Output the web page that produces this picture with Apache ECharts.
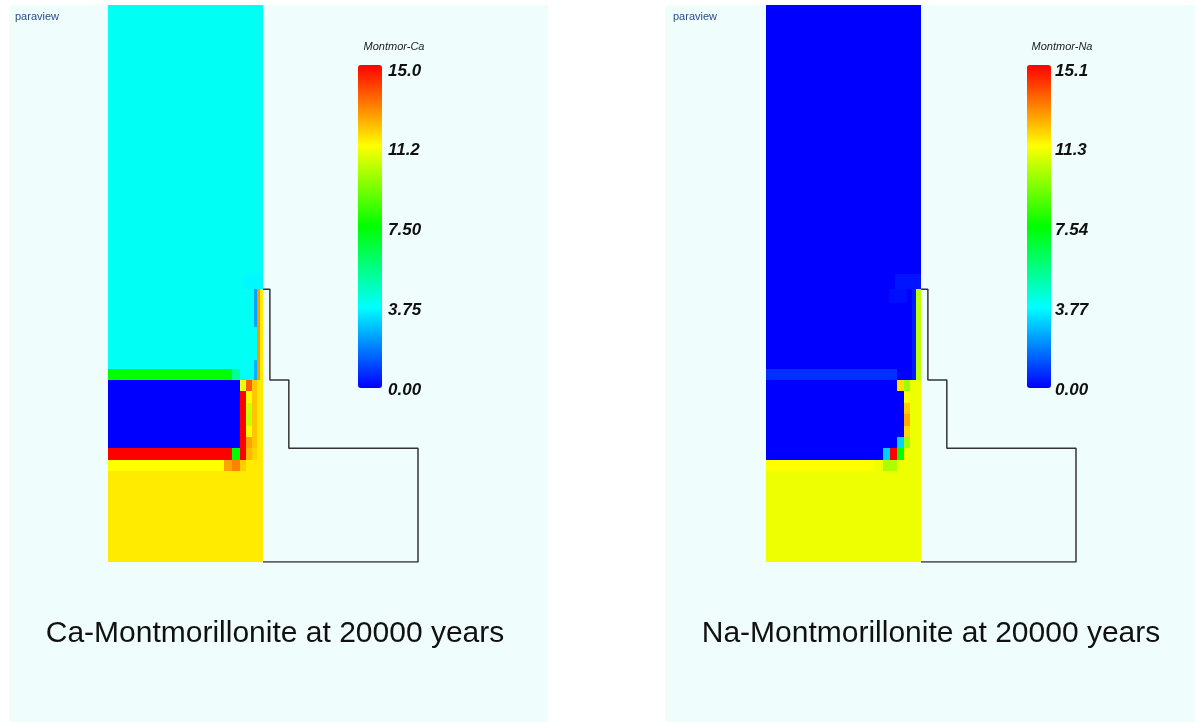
<!DOCTYPE html>
<html>
<head>
<meta charset="utf-8">
<title>Montmorillonite at 20000 years</title>
<script src="https://cdn.jsdelivr.net/npm/echarts@6/dist/echarts.min.js"></script>
<style>
  html, body { margin: 0; padding: 0; background: #ffffff; }
  #chart { width: 1197px; height: 725px; }
</style>
</head>
<body>
<div id="chart"></div>
<script>
// domain outline, in mesh cell units (field is x 0..27, y 0..49)
const outlineX = [27, 28.2, 28.2, 31.5, 31.5, 54, 54, 27];
const outlineY = [24, 24, 16, 16, 10, 10, 0, 0];

// colour bar ranges and tick labels
const caRange = [0, 15.0];
const naRange = [0, 15.08];
const caTickLabels = ['0.00', '3.75', '7.50', '11.2', '15.0'];
const naTickLabels = ['0.00', '3.77', '7.54', '11.3', '15.1'];

// field patches: [x0, x1, y0, y1, value], later ones drawn on top
const caPatches = [
  [0, 27, 0, 24, 11.55],
  [0, 27, 24, 49, 3.9],
  [0, 26, 16, 24, 3.9],
  [23.5, 27, 24, 25.3, 3.65],
  [25.5, 26, 20.7, 24, 2.4],
  [25.5, 26, 16, 17.8, 2.6],
  [26, 26.4, 16, 24, 12.8],
  [0, 21.6, 16, 17, 7.5],
  [21.6, 23, 16, 17, 5.3],
  [0, 23, 10, 16, 0],
  [23, 24, 10, 15, 15],
  [23, 24, 15, 16, 11.0],
  [24, 25, 15, 16, 13.6],
  [24, 25, 14, 15, 11.3],
  [24, 25, 13, 14, 10.5],
  [24, 25, 12, 13, 10.4],
  [24, 25, 11, 12, 11.2],
  [24, 25, 10, 11, 12.6],
  [25, 26, 10, 16, 12.1],
  [0, 21.6, 9, 10, 15],
  [21.6, 23, 9, 10, 7.5],
  [23, 24, 9, 10, 15],
  [24, 25, 9, 10, 12.3],
  [25, 26, 9, 10, 11.9],
  [0, 20.2, 8, 9, 11.25],
  [20.2, 21.6, 8, 9, 12.6],
  [21.6, 23, 8, 9, 13.1],
  [23, 24, 8, 9, 12.0]
];

const naPatches = [
  [0, 27, 0, 24, 11.05],
  [0, 27, 24, 49, 0],
  [0, 26.1, 16, 24, 0],
  [22.5, 27, 24, 25.3, 0.3],
  [21.5, 24.5, 22.8, 24, 0.2],
  [25.5, 26.1, 16, 24, 0.4],
  [26.1, 27, 16, 24, 10.4],
  [0, 22.9, 16, 17, 0.7],
  [0, 24, 10, 15, 0],
  [0, 22.9, 15, 16, 0],
  [22.9, 24, 15, 16, 11.8],
  [24, 25, 15, 16, 9.8],
  [24, 25, 14, 15, 11.3],
  [24, 25, 13, 14, 12.1],
  [24, 25, 12, 13, 12.6],
  [24, 25, 11, 12, 11.9],
  [22.9, 24, 10, 11, 3.1],
  [24, 25, 10, 11, 9.9],
  [0, 20.3, 9, 10, 0],
  [20.3, 21.6, 9, 10, 3.1],
  [21.6, 22.9, 9, 10, 15.08],
  [22.9, 24, 9, 10, 7.54],
  [0, 18.8, 8, 9, 11.31],
  [20.3, 22.9, 8, 9, 10.1]
];

const rainbow = ['#0000ff', '#00ffff', '#00ff00', '#ffff00', '#ff0000'];
const panelColor = '#f0fdfd';
const labelFont = '"Liberation Sans", Arial, sans-serif';

// draw one patch as a rect through the axes
function renderPatch(params, api) {
  const p0 = api.coord([api.value(0), api.value(3)]);
  const p1 = api.coord([api.value(1), api.value(2)]);
  const x = Math.round(p0[0]);
  const y = Math.round(p0[1]);
  return {
    type: 'rect',
    shape: { x: x, y: y, width: Math.round(p1[0]) - x, height: Math.round(p1[1]) - y },
    style: { fill: api.visual('color') }
  };
}

function hiddenValueAxis(idx, max) {
  return { type: 'value', gridIndex: idx, min: 0, max: max, show: false };
}

function barLabelAxis(idx, range, labels, margin) {
  return {
    type: 'value',
    gridIndex: idx,
    position: 'right',
    min: range[0],
    max: range[1],
    interval: (range[1] - range[0]) / 4,
    axisLine: { show: false },
    axisTick: { show: false },
    splitLine: { show: false },
    axisLabel: {
      margin: margin,
      color: '#111',
      fontSize: 17,
      fontStyle: 'italic',
      fontWeight: 'bold',
      fontFamily: labelFont,
      formatter: (v, i) => labels[i]
    }
  };
}

function textEl(x, y, text, font, fill, align) {
  return {
    type: 'text',
    x: x,
    y: y,
    z: 10,
    style: {
      text: text,
      font: font,
      fill: fill,
      align: align, textAlign: align,
      verticalAlign: 'middle', textVerticalAlign: 'middle'
    }
  };
}

function initChart() {
  const chartDom = document.getElementById('chart');
  const chart = echarts.init(chartDom, null, { renderer: 'canvas' });

  const option = {
    animation: false,
    backgroundColor: '#ffffff',
    grid: [
      { left: 108, top: 5, width: 310, height: 557 },
      { left: 766, top: 5, width: 310, height: 557 },
      { left: 358, top: 71, width: 24, height: 319 },
      { left: 1027, top: 71, width: 24, height: 319 }
    ],
    xAxis: [
      hiddenValueAxis(0, 54),
      hiddenValueAxis(1, 54),
      hiddenValueAxis(2, 1),
      hiddenValueAxis(3, 1)
    ],
    yAxis: [
      hiddenValueAxis(0, 49),
      hiddenValueAxis(1, 49),
      barLabelAxis(2, caRange, caTickLabels, 6),
      barLabelAxis(3, naRange, naTickLabels, 4)
    ],
    visualMap: [
      {
        type: 'continuous',
        seriesIndex: 0,
        dimension: 4,
        min: caRange[0],
        max: caRange[1],
        calculable: false,
        left: 358,
        top: 65,
        padding: 0,
        itemWidth: 24,
        itemHeight: 323,
        inRange: { color: rainbow }
      },
      {
        type: 'continuous',
        seriesIndex: 2,
        dimension: 4,
        min: naRange[0],
        max: naRange[1],
        calculable: false,
        left: 1027,
        top: 65,
        padding: 0,
        itemWidth: 24,
        itemHeight: 323,
        inRange: { color: rainbow }
      }
    ],
    graphic: [
      { type: 'rect', z: -10, shape: { x: 9, y: 5, width: 539, height: 717 }, style: { fill: panelColor } },
      { type: 'rect', z: -10, shape: { x: 665, y: 5, width: 530, height: 717 }, style: { fill: panelColor } },
      textEl(15, 17, 'paraview', '11px ' + labelFont, '#2b4c8c', 'left'),
      textEl(673, 17, 'paraview', '11px ' + labelFont, '#2b4c8c', 'left'),
      textEl(394, 47, 'Montmor-Ca', 'italic 11px ' + labelFont, '#222', 'center'),
      textEl(1062, 47, 'Montmor-Na', 'italic 11px ' + labelFont, '#222', 'center'),
      textEl(275, 634, 'Ca-Montmorillonite at 20000 years', '30px ' + labelFont, '#111', 'center'),
      textEl(931, 634, 'Na-Montmorillonite at 20000 years', '30px ' + labelFont, '#111', 'center')
    ],
    series: [
      {
        name: 'Montmor-Ca',
        type: 'custom',
        xAxisIndex: 0,
        yAxisIndex: 0,
        renderItem: renderPatch,
        data: caPatches,
        silent: true
      },
      {
        type: 'line',
        xAxisIndex: 0,
        yAxisIndex: 0,
        data: outlineX.map((x, i) => [x, outlineY[i]]),
        showSymbol: false,
        silent: true,
        z: 5,
        lineStyle: { color: '#333', width: 1.5 }
      },
      {
        name: 'Montmor-Na',
        type: 'custom',
        xAxisIndex: 1,
        yAxisIndex: 1,
        renderItem: renderPatch,
        data: naPatches,
        silent: true
      },
      {
        type: 'line',
        xAxisIndex: 1,
        yAxisIndex: 1,
        data: outlineX.map((x, i) => [x, outlineY[i]]),
        showSymbol: false,
        silent: true,
        z: 5,
        lineStyle: { color: '#333', width: 1.5 }
      }
    ]
  };

  chart.setOption(option);
}

document.addEventListener('DOMContentLoaded', initChart);
</script>
</body>
</html>
